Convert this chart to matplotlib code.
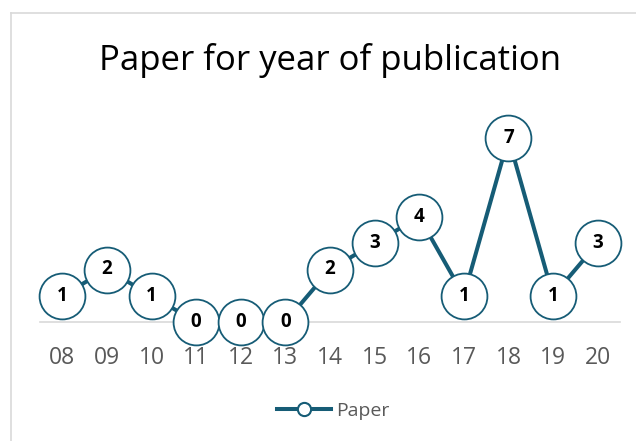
import matplotlib.pyplot as plt
from matplotlib.lines import Line2D

years = ["08", "09", "10", "11", "12", "13", "14", "15", "16", "17", "18", "19", "20"]
papers = [1, 2, 1, 0, 0, 0, 2, 3, 4, 1, 7, 1, 3]

teal = "#165C76"
grey_txt = "#595959"
grey_line = "#D9D9D9"

plt.rcParams['font.family'] = ['Open Sans', 'DejaVu Sans']

fig = plt.figure(figsize=(6.36, 4.41), dpi=100)
ax = fig.add_axes([40 / 636, 119 / 441, 580 / 636, 210 / 441])

x = list(range(len(years)))
ax.plot(x, papers, '-', color=teal, lw=2.9, marker='o', ms=33,
        mfc='white', mec=teal, mew=1.3, clip_on=False, zorder=3, label="Paper")
for xi, v in zip(x, papers):
    ax.text(xi, v, str(v), ha='center', va='center', fontsize=13.5,
            fontweight='bold', color='black', zorder=4)

ax.set_xlim(-0.5, 12.5)
ax.set_ylim(0, 8)
ax.set_xticks(x)
ax.set_xticklabels(years)
ax.set_yticks([])
for s in ['top', 'right', 'left']:
    ax.spines[s].set_visible(False)
ax.spines['bottom'].set_color(grey_line)
ax.spines['bottom'].set_linewidth(1.2)
ax.tick_params(axis='x', length=0, pad=17, labelsize=16.5, labelcolor=grey_txt)

fig.text(330 / 636, 1 - 70 / 441, "Paper for year of publication",
         ha='center', va='baseline', fontsize=25, color='black')

# legend drawn by hand below the axis
handle = Line2D([0], [0], color=teal, lw=2.9, marker='o', ms=9.5,
                mfc='white', mec=teal, mew=1.5)
fig.legend([handle], ["Paper"], loc='center', bbox_to_anchor=(333 / 636, 1 - 411 / 441),
           frameon=False, fontsize=14, labelcolor=grey_txt, handlelength=2.8,
           handletextpad=0.25)

# chart border (left and top edges visible)
fig.add_artist(Line2D([11 / 636, 11 / 636], [0, 1 - 13 / 441], color=grey_line, lw=1.2))
fig.add_artist(Line2D([11 / 636, 1], [1 - 13 / 441, 1 - 13 / 441], color=grey_line, lw=1.2))

fig.savefig("out.png", dpi=100)
